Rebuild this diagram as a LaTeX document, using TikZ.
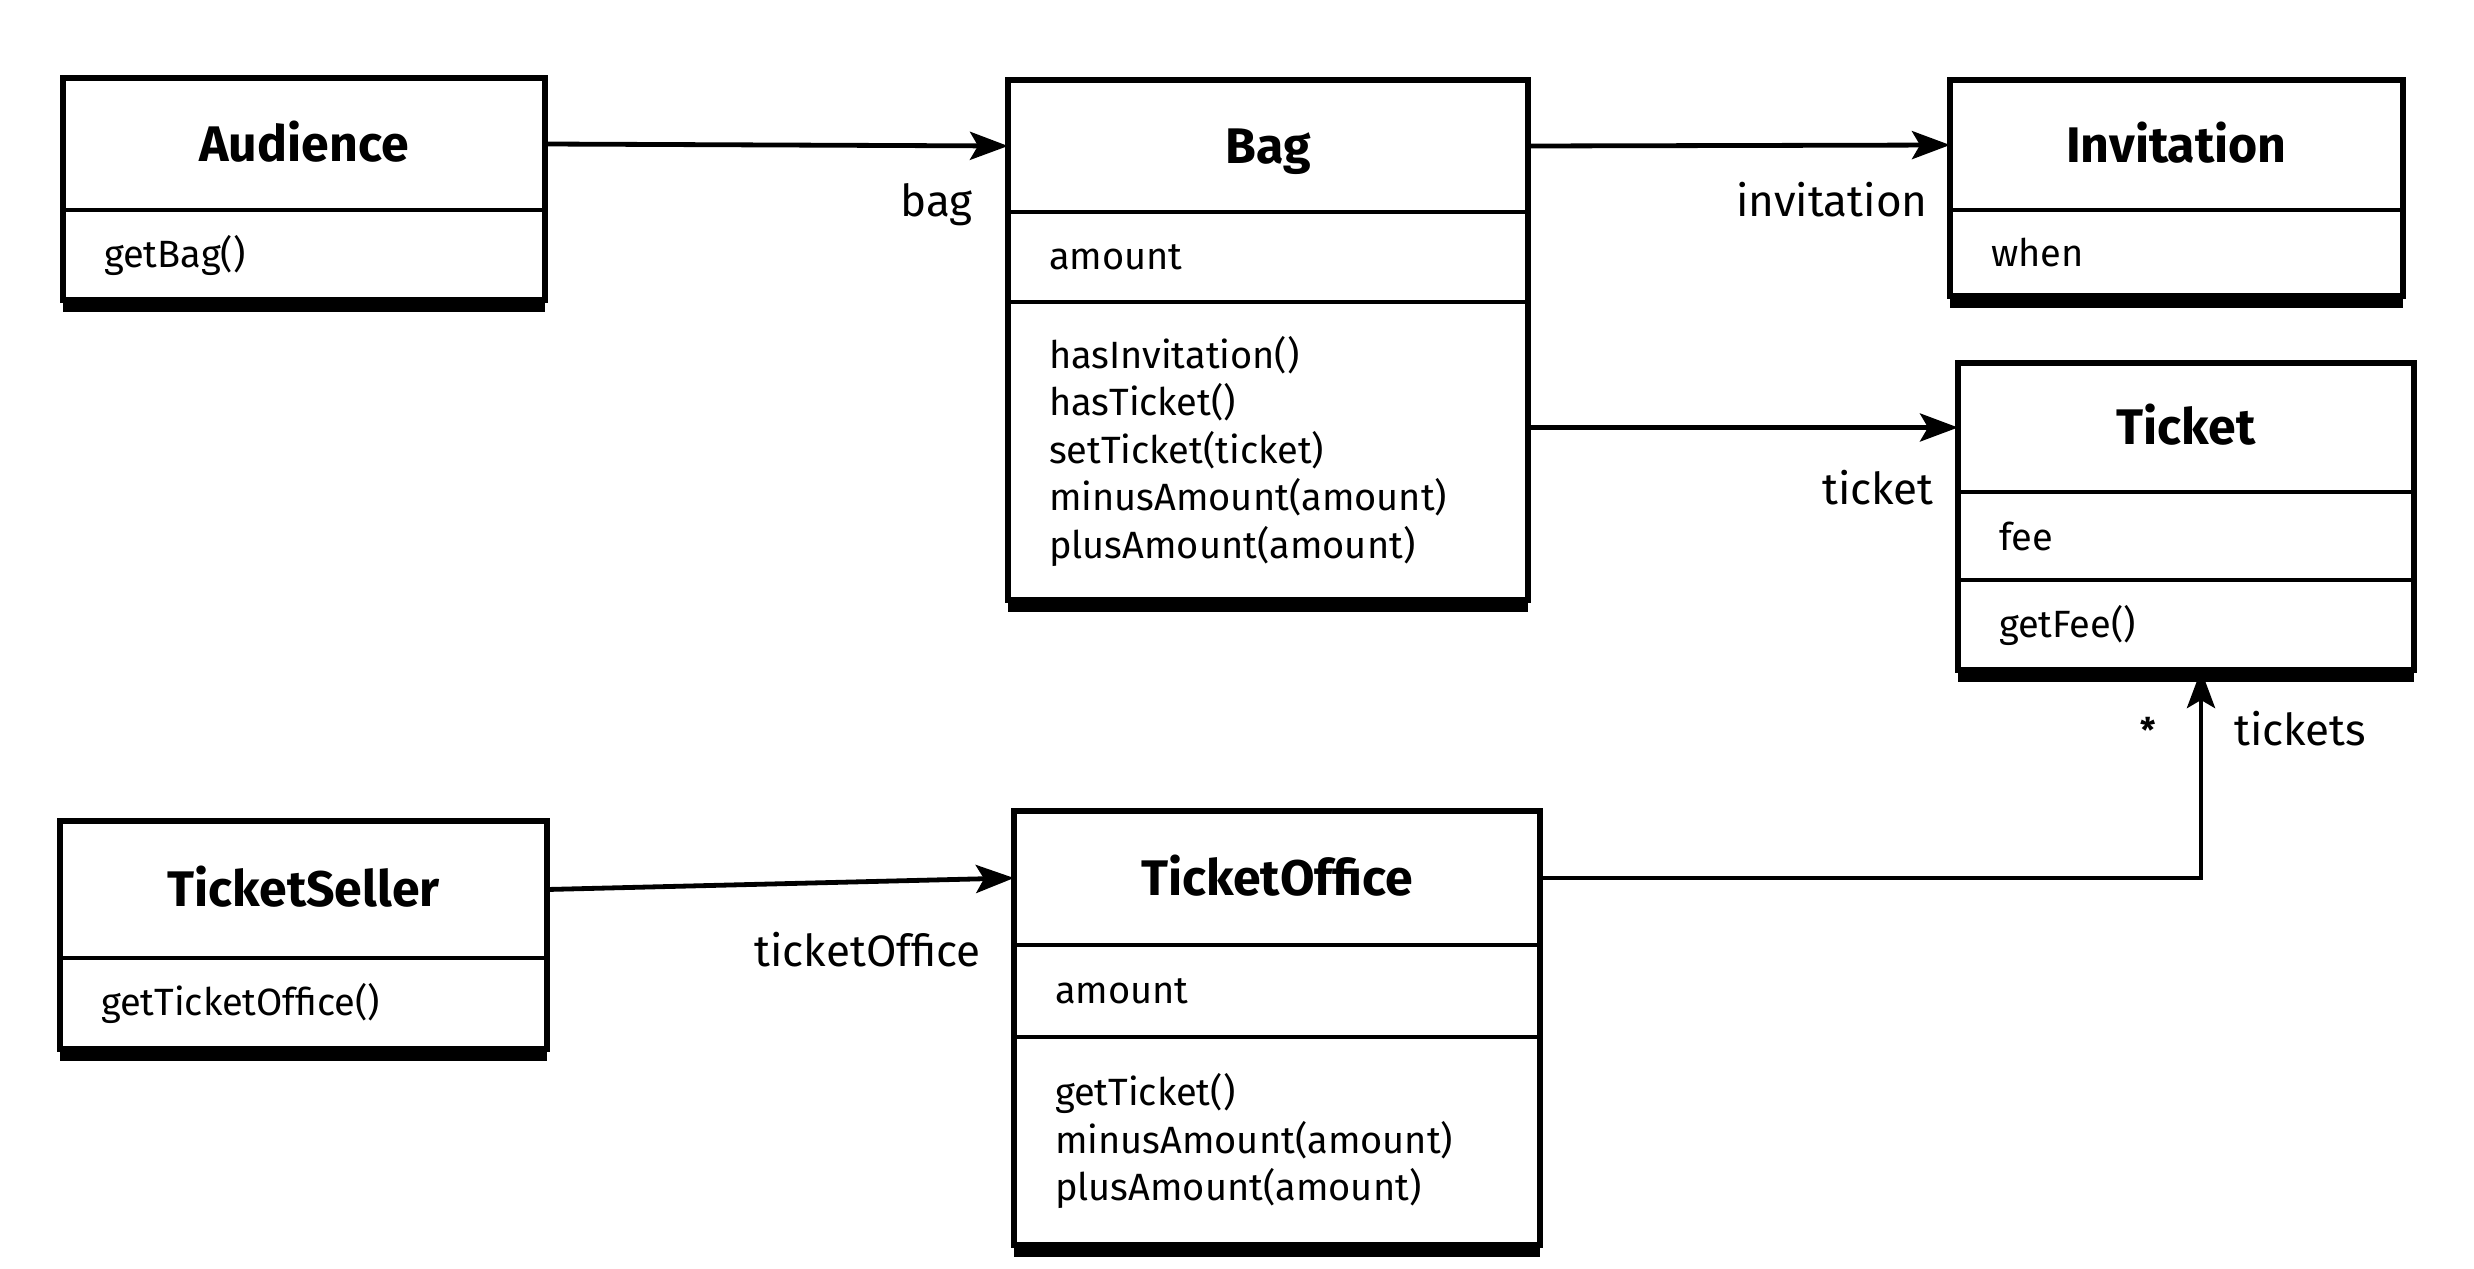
\documentclass[tikz,border=0pt]{standalone}
\usepackage{fontspec}
\setmainfont{Fira Sans}
\usetikzlibrary{arrows.meta,calc}
\newcommand{\ttlfont}{\fontsize{25}{30}\selectfont\bfseries}
\newcommand{\memfont}{\fontsize{19}{23.75}\selectfont}
\newcommand{\lblfont}{\fontsize{22}{26}\selectfont}
\begin{document}
\begin{tikzpicture}[x=0.5pt,y=-0.5pt,
 hdr/.style={draw, line width=2pt, anchor=north west, inner sep=0pt, outer sep=0pt, font=\ttlfont, align=center, text height=17.3pt, text depth=0pt},
 cmp/.style={draw, line width=2pt, anchor=north west, inner xsep=20.5pt, inner ysep=0pt, outer sep=0pt, align=left, font=\memfont},
 outline/.style={draw, line width=2.6pt},
 shade/.style={fill=black},
 assoc/.style={line width=2.4pt, -{Stealth[length=19pt,width=14pt,inset=4pt]}},
 lbl/.style={font=\lblfont, inner sep=0pt}
]
\useasboundingbox (0,0) rectangle (2474,1269);

% Audience
\node[hdr, minimum width=241pt, minimum height=66pt] (audH) at (63,78) {Audience};
\node[cmp, minimum height=45pt, text width=200pt] (audA) at (audH.south west) {getBag()};
\fill[shade] (audA.south west) rectangle ([yshift=-6pt]audA.south east);
\draw[outline] (audH.north west) rectangle (audA.south east);

% Bag
\node[hdr, minimum width=260pt, minimum height=66pt] (bagH) at (1008,80) {Bag};
\node[cmp, minimum height=45pt, text width=219pt] (bagA) at (bagH.south west) {amount};
\node[cmp, minimum height=149pt, text width=219pt] (bagM) at (bagA.south west)
  {hasInvitation()\\hasTicket()\\setTicket(ticket)\\minusAmount(amount)\\plusAmount(amount)};
\fill[shade] (bagM.south west) rectangle ([yshift=-6pt]bagM.south east);
\draw[outline] (bagH.north west) rectangle (bagM.south east);

% Invitation
\node[hdr, minimum width=226.5pt, minimum height=65pt] (invH) at (1950,80) {Invitation};
\node[cmp, minimum height=43pt, text width=185.5pt] (invA) at (invH.south west) {when};
\fill[shade] (invA.south west) rectangle ([yshift=-6pt]invA.south east);
\draw[outline] (invH.north west) rectangle (invA.south east);

% Ticket
\node[hdr, minimum width=228pt, minimum height=64.5pt] (tkH) at (1958,363) {Ticket};
\node[cmp, minimum height=44pt, text width=187pt] (tkA) at (tkH.south west) {fee};
\node[cmp, minimum height=45pt, text width=187pt] (tkM) at (tkA.south west) {getFee()};
\fill[shade] (tkM.south west) rectangle ([yshift=-6pt]tkM.south east);
\draw[outline] (tkH.north west) rectangle (tkM.south east);

% TicketSeller
\node[hdr, minimum width=243.5pt, minimum height=68.5pt] (tsH) at (60,821) {TicketSeller};
\node[cmp, minimum height=45.5pt, text width=202.5pt] (tsA) at (tsH.south west) {getTicketOffice()};
\fill[shade] (tsA.south west) rectangle ([yshift=-6pt]tsA.south east);
\draw[outline] (tsH.north west) rectangle (tsA.south east);

% TicketOffice
\node[hdr, minimum width=263pt, minimum height=67pt] (toH) at (1014,811) {TicketOffice};
\node[cmp, minimum height=46pt, text width=222pt] (toA) at (toH.south west) {amount};
\node[cmp, minimum height=104pt, text width=222pt] (toM) at (toA.south west)
  {getTicket()\\minusAmount(amount)\\plusAmount(amount)};
\fill[shade] (toM.south west) rectangle ([yshift=-6pt]toM.south east);
\draw[outline] (toH.north west) rectangle (toM.south east);

% connectors
\draw[assoc] (audH.east) -- (bagH.west);
\draw[assoc] (bagH.east) -- (invH.west);
\draw[assoc] (bagM.east |- tkH.west) -- (tkH.west);
\draw[assoc] (tsH.east) -- (toH.west);
\draw[assoc] (toH.east) -| ([xshift=7.5pt]tkM.south);

% labels
\node[lbl, anchor=base east] (lbag) at (973,216) {bag};
\node[lbl, anchor=base east] (linv) at (1928,216) {invitation};
\node[lbl, anchor=base east] (ltk) at (1934,504) {ticket};
\node[lbl, anchor=base east] (lto) at (981,966) {ticketOffice};
\node[lbl, anchor=base west] (ltks) at (2234,745) {tickets};
\node[font=\fontsize{17}{17}\selectfont\bfseries, inner sep=0pt] (lmult) at (2148,730) {*};
\end{tikzpicture}
\end{document}
